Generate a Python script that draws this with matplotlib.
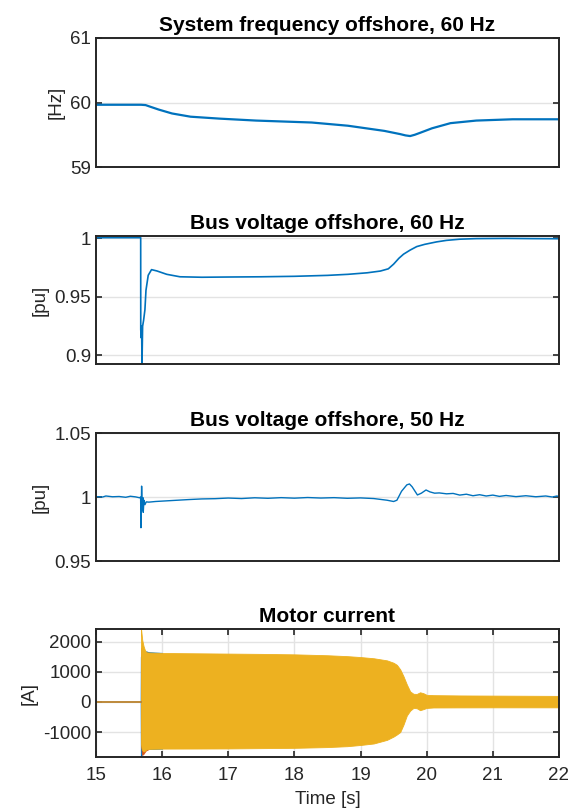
import matplotlib
matplotlib.use("Agg")
import matplotlib.pyplot as plt

plt.rcParams["font.family"] = ["Liberation Sans", "DejaVu Sans"]
plt.rcParams["axes.unicode_minus"] = False

# ---- System frequency offshore (60 Hz grid) ----
freq_t = [15.0, 15.68, 15.75, 15.82, 15.95, 16.15, 16.43, 16.87, 17.42, 18.26,
          18.81, 19.36, 19.6, 19.68, 19.75, 19.82, 19.9, 20.08, 20.36, 20.75,
          21.3, 22.0]
freq_hz = [59.965, 59.965, 59.96, 59.935, 59.89, 59.83, 59.78, 59.75, 59.72, 59.69,
           59.64, 59.56, 59.51, 59.49, 59.48, 59.50, 59.53, 59.60, 59.68, 59.72,
           59.74, 59.74]

# ---- Bus voltage offshore, 60 Hz side ----
v60_t = [15.0, 15.676, 15.677, 15.685, 15.690, 15.696, 15.705, 15.72, 15.74, 15.756,
         15.79, 15.84, 15.92, 16.07, 16.27, 16.6, 17.0, 17.5, 18.0, 18.5,
         18.81, 19.1, 19.3, 19.42, 19.5, 19.58, 19.65, 19.75, 19.85, 19.97,
         20.15, 20.3, 20.5, 20.75, 21.2, 21.6, 22.0]
v60_pu = [1.0006, 1.0006, 0.922, 0.915, 0.925, 0.8925, 0.925, 0.930, 0.939, 0.9557,
          0.9685, 0.9733, 0.9722, 0.9693, 0.9672, 0.9668, 0.9670, 0.9672, 0.9676, 0.9684,
          0.9693, 0.9706, 0.9721, 0.9740, 0.9780, 0.9830, 0.9865, 0.9900, 0.9930, 0.9949,
          0.9970, 0.9983, 0.9993, 0.9998, 1.0000, 0.9998, 0.9997]

# ---- Bus voltage offshore, 50 Hz side ----
v50_t = [15.0, 15.1, 15.15, 15.25, 15.35, 15.45, 15.52, 15.6, 15.66, 15.675,
         15.68, 15.69, 15.70, 15.71, 15.715, 15.725, 15.74, 15.76, 15.8, 15.9,
         16.0, 16.2, 16.4, 16.6, 16.8, 17.0, 17.2, 17.4, 17.6, 17.8,
         18.0, 18.2, 18.4, 18.6, 18.8, 19.0, 19.2, 19.4, 19.5, 19.55,
         19.62, 19.7, 19.74, 19.78, 19.86, 19.92, 19.99, 20.05, 20.12, 20.19,
         20.3, 20.4, 20.5, 20.6, 20.7, 20.8, 20.9, 21.0, 21.1, 21.2,
         21.35, 21.5, 21.65, 21.8, 21.9, 21.97, 22.0]
v50_pu = [1.0003, 1.0000, 1.0008, 1.0002, 1.0004, 0.9998, 1.0006, 1.0001, 0.9994, 1.0000,
          0.9760, 1.0085, 0.9900, 0.9995, 0.9880, 0.9975, 0.9940, 0.9962, 0.9960, 0.9965,
          0.9968, 0.9974, 0.9980, 0.9985, 0.9987, 0.9992, 0.9988, 0.9994, 0.9990, 0.9995,
          0.9991, 0.9996, 0.9992, 0.9995, 0.9990, 0.9993, 0.9988, 0.9975, 0.9965, 0.9975,
          1.0045, 1.0095, 1.0102, 1.0080, 1.0016, 1.0030, 1.0055, 1.0040, 1.0030, 1.0032,
          1.0025, 1.0028, 1.0015, 1.0022, 1.0010, 1.0018, 1.0008, 1.0015, 1.0005, 1.0012,
          1.0003, 1.0010, 1.0002, 1.0008, 1.0000, 1.0008, 1.0003]

# ---- Motor current: three phases, envelopes of the 60 Hz oscillation ----
pre_t = [15.0, 15.68]
pre_a = [0.0, 0.0]

ia_t = [15.675, 15.678, 15.70, 15.74, 15.76, 15.80, 16.0]
ia_hi = [0, 1500, 1600, 1660, 1680, 1650, 1630]
ia_lo = [0, -1830, -1700, -1620, -1580, -1560, -1550]

ib_t = [15.68, 15.685, 15.70, 15.72, 15.75, 15.80]
ib_hi = [0, 1800, 1700, 1650, 1640, 1630]
ib_lo = [0, -1500, -1760, -1720, -1620, -1560]

ic_t = [15.68, 15.682, 15.69, 15.70, 15.72, 15.74, 15.76, 15.80, 16.0, 16.5,
        17.0, 17.5, 18.0, 18.5, 18.8, 19.0, 19.2, 19.4, 19.5, 19.55,
        19.6, 19.65, 19.7, 19.75, 19.8, 19.85, 19.9, 19.95, 20.0, 20.1,
        20.5, 21.0, 21.5, 22.0]
ic_hi = [0, 2420, 2250, 2050, 1850, 1720, 1650, 1640, 1625, 1615,
         1605, 1595, 1580, 1550, 1520, 1490, 1450, 1380, 1300, 1230,
         1080, 850, 580, 350, 270, 265, 320, 290, 235, 225,
         215, 210, 205, 200]
ic_lo = [0, -1400, -1550, -1600, -1650, -1620, -1580, -1560, -1550, -1548,
         -1545, -1535, -1525, -1500, -1470, -1430, -1380, -1260, -1150, -1080,
         -1000, -750, -450, -290, -200, -210, -275, -240, -200, -185,
         -182, -180, -180, -180]

time_ticks = [15, 16, 17, 18, 19, 20, 21, 22]

BLUE = "#0072BD"
RED = "#D95319"
YELLOW = "#EDB120"
DARK = "#262626"
GRID = "#E3E3E3"

TICK_FS = 13.5
TITLE_FS = 15
LABEL_FS = 13.5

fig = plt.figure(figsize=(5.74, 8.10), dpi=100)
left, width = 0.1672, 0.8066
boxes = [(0.7938, 0.1593), (0.5506, 0.1580), (0.3074, 0.1580), (0.0654, 0.1580)]
axes = [fig.add_axes([left, b, width, h]) for b, h in boxes]


def style(ax, title, ylabel, show_x):
    ax.set_xlim(15, 22)
    ax.set_title(title, fontsize=TITLE_FS, fontweight="bold", color="black", pad=5)
    ax.set_ylabel(ylabel, fontsize=LABEL_FS, color=DARK, labelpad=4)
    for s in ax.spines.values():
        s.set_color(DARK)
        s.set_linewidth(1.4)
    ax.tick_params(axis="both", direction="in", length=4, width=1.2,
                   colors=DARK, labelsize=TICK_FS, right=True, top=show_x)
    ax.tick_params(axis="x", pad=7)
    ax.set_axisbelow(True)
    ax.grid(True, axis="y", color=GRID, linewidth=1.0)
    if show_x:
        ax.grid(True, axis="x", color=GRID, linewidth=1.0)
        ax.set_xticks(time_ticks)
        ax.set_xlabel("Time [s]", fontsize=LABEL_FS, color=DARK, labelpad=5)
    else:
        ax.set_xticks([])


ax1, ax2, ax3, ax4 = axes

ax1.plot(freq_t, freq_hz, color=BLUE, lw=1.6)
ax1.set_ylim(59, 61)
ax1.set_yticks([59, 60, 61])
style(ax1, "System frequency offshore, 60 Hz", "[Hz]", False)

ax2.plot(v60_t, v60_pu, color=BLUE, lw=1.2)
ax2.set_ylim(0.8927, 1.002)
ax2.set_yticks([0.9, 0.95, 1.0])
ax2.set_yticklabels(["0.9", "0.95", "1"])
style(ax2, "Bus voltage offshore, 60 Hz", "[pu]", False)

ax3.plot(v50_t, v50_pu, color=BLUE, lw=1.0)
ax3.set_ylim(0.95, 1.05)
ax3.set_yticks([0.95, 1.0, 1.05])
ax3.set_yticklabels(["0.95", "1", "1.05"])
style(ax3, "Bus voltage offshore, 50 Hz", "[pu]", False)

ax4.plot(pre_t, pre_a, color=BLUE, lw=1.2)
ax4.plot(pre_t, pre_a, color=RED, lw=1.2, alpha=0.7)
ax4.plot(pre_t, pre_a, color=YELLOW, lw=1.2, alpha=0.6)
ax4.fill_between(ia_t, ia_lo, ia_hi, color=BLUE, lw=0.6)
ax4.fill_between(ib_t, ib_lo, ib_hi, color=RED, lw=0.6)
ax4.fill_between(ic_t, ic_lo, ic_hi, color=YELLOW, lw=0.6)
ax4.set_ylim(-1830, 2420)
ax4.set_yticks([-1000, 0, 1000, 2000])
style(ax4, "Motor current", "[A]", True)

fig.savefig("out.png", dpi=100)
